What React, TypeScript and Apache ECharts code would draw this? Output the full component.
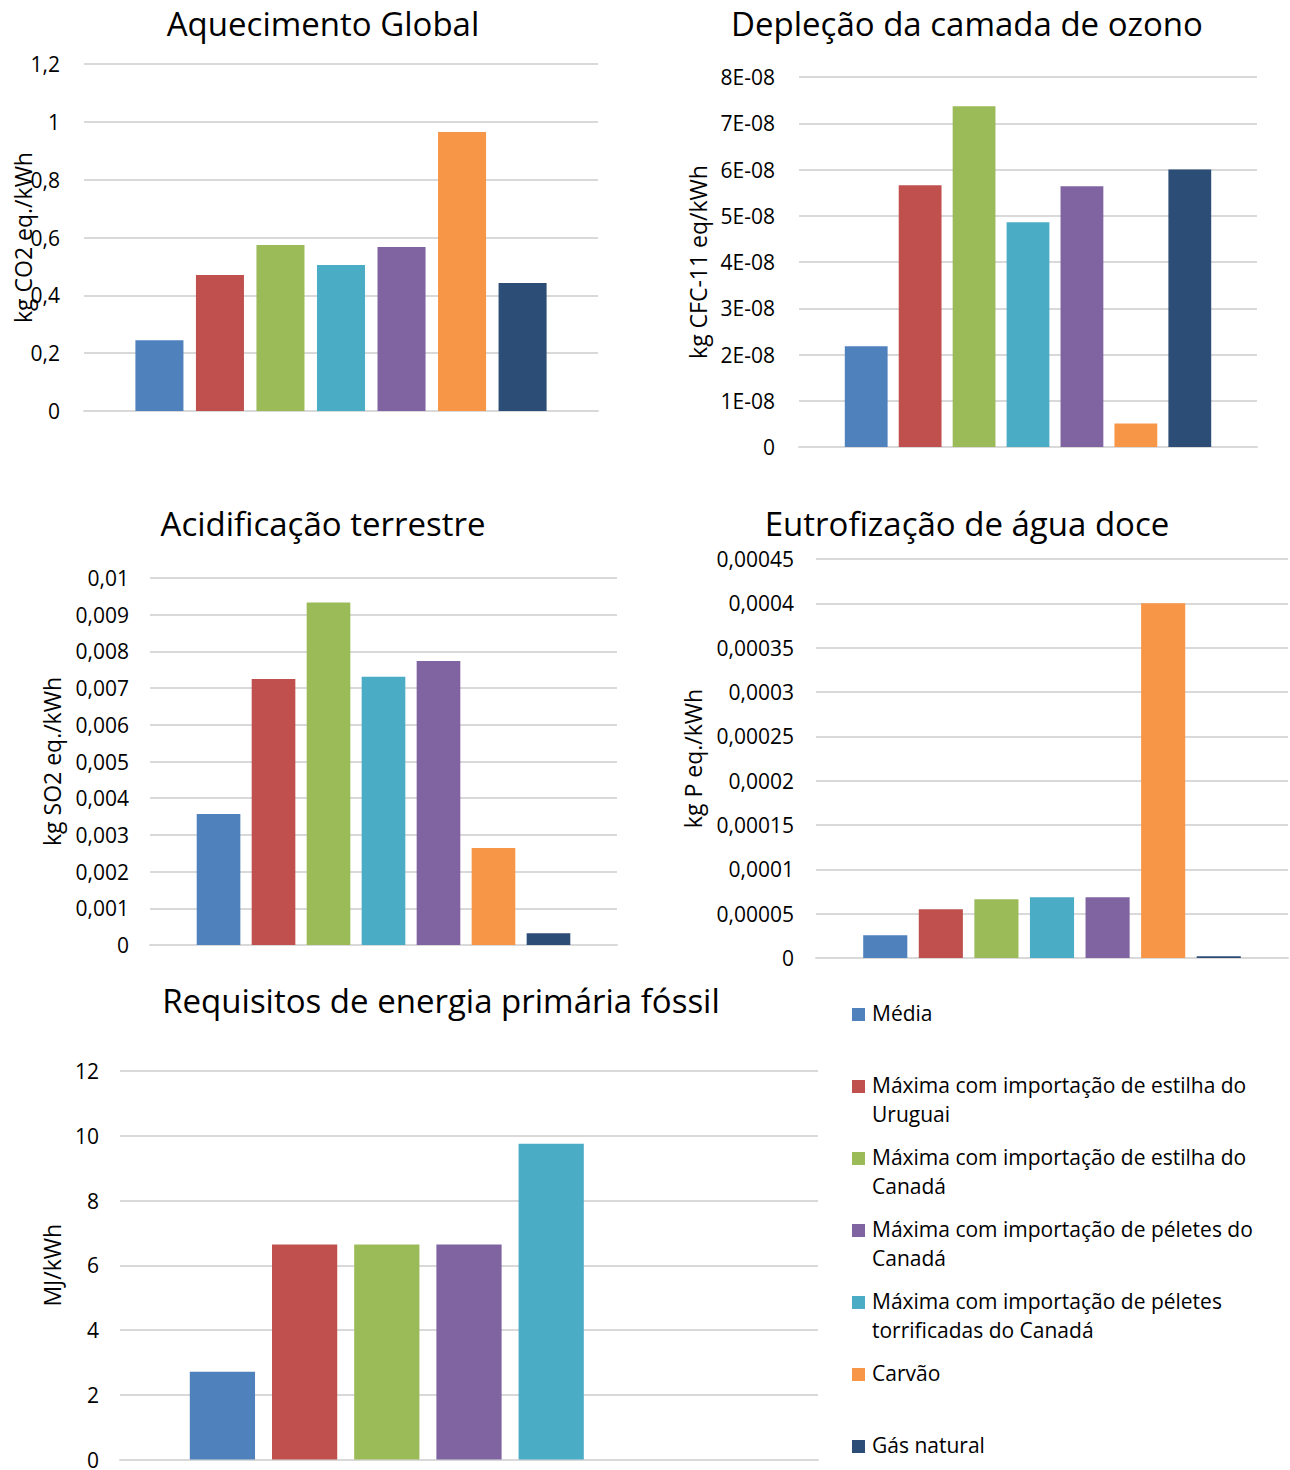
import React, { useEffect, useRef } from 'react';
import * as echarts from 'echarts';

// Scenario names, in legend order
const scenarios = [
  'Média',
  'Máxima com importação de estilha do Uruguai',
  'Máxima com importação de estilha do Canadá',
  'Máxima com importação de péletes do Canadá',
  'Máxima com importação de péletes torrificadas do Canadá',
  'Carvão',
  'Gás natural',
];

// Legend labels with their line breaks
const legendLabels = [
  'Média',
  'Máxima com importação de estilha do\nUruguai',
  'Máxima com importação de estilha do\nCanadá',
  'Máxima com importação de péletes do\nCanadá',
  'Máxima com importação de péletes\ntorrificadas do Canadá',
  'Carvão',
  'Gás natural',
];

const scenarioColors = ['#4F81BD', '#C0504D', '#9BBB59', '#8064A2', '#4BACC6', '#F79646', '#2C4D75'];

// Impact values per scenario (legend order)
const aquecimentoGlobal = [0.245, 0.47, 0.574, 0.567, 0.505, 0.965, 0.443];
const deplecaoOzono = [2.18e-8, 5.66e-8, 7.37e-8, 5.64e-8, 4.86e-8, 0.51e-8, 6.0e-8];
const acidificacao = [0.00357, 0.00725, 0.00933, 0.00774, 0.00731, 0.00264, 0.00032];
const eutrofizacao = [0.0000256, 0.0000549, 0.0000662, 0.0000685, 0.0000685, 0.0004, 0.0000019];
const energiaFossil: (number | null)[] = [2.71, 6.64, 6.64, 6.64, 9.75, null, null];

// Order in which the scenario bars appear inside each panel
const orderImpactos = [0, 1, 2, 4, 3, 5, 6];
const orderEnergia = [0, 1, 2, 3, 4, 5, 6];

// Axis ranges
const axisMax = [1.2, 8e-8, 0.01, 0.00045, 12];
const axisStep = [0.2, 1e-8, 0.001, 0.00005, 2];

const titles = [
  'Aquecimento Global',
  'Depleção da camada de ozono',
  'Acidificação terrestre',
  'Eutrofização de água doce',
  'Requisitos de energia primária fóssil',
];
const axisNames = ['kg CO2 eq./kWh', 'kg CFC-11 eq/kWh', 'kg SO2 eq./kWh', 'kg P eq./kWh', 'MJ/kWh'];

const FONT = "'Open Sans', sans-serif";
const GRID_COLOR = '#D9D9D9';

const commaFormat = (v: number) =>
  v === 0 ? '0' : String(parseFloat(v.toPrecision(6))).replace('.', ',');
const sciFormat = (v: number) => (v === 0 ? '0' : `${Math.round(v / 1e-8)}E-08`);

const panels = [
  { values: aquecimentoGlobal, order: orderImpactos, fmt: commaFormat,
    grid: { left: 84, width: 514, top: 64, height: 347 }, nameGap: 50, labelMargin: 24,
    title: { x: 323, y: 7 } },
  { values: deplecaoOzono, order: orderImpactos, fmt: sciFormat,
    grid: { left: 799, width: 458, top: 77, height: 370 }, nameGap: 90, labelMargin: 24,
    title: { x: 967, y: 7 } },
  { values: acidificacao, order: orderImpactos, fmt: commaFormat,
    grid: { left: 150, width: 467, top: 578, height: 367 }, nameGap: 87, labelMargin: 21,
    title: { x: 323, y: 507 } },
  { values: eutrofizacao, order: orderImpactos, fmt: commaFormat,
    grid: { left: 816, width: 472, top: 559, height: 399 }, nameGap: 112, labelMargin: 22,
    title: { x: 967, y: 507 } },
  { values: energiaFossil, order: orderEnergia, fmt: commaFormat,
    grid: { left: 120, width: 698, top: 1071, height: 395 }, nameGap: 57, labelMargin: 21,
    title: { x: 441, y: 984 } },
];

export default function App() {
  const ref = useRef<HTMLDivElement>(null);

  useEffect(() => {
    if (!ref.current) return;
    const chart = echarts.init(ref.current, null, { renderer: 'svg' });

    const series: any[] = [];
    panels.forEach((p, gi) => {
      p.order.forEach((si) => {
        const v = p.values[si];
        series.push({
          type: 'bar',
          name: scenarios[si],
          xAxisIndex: gi,
          yAxisIndex: gi,
          data: [v == null ? '-' : v],
          itemStyle: { color: scenarioColors[si] },
          barGap: '26%',
          barCategoryGap: '20%',
        });
      });
    });

    const legendGraphics: any[] = [];
    legendLabels.forEach((label, i) => {
      const cy = 1014.5 + 72 * i;
      legendGraphics.push({
        type: 'rect',
        shape: { x: 852, y: cy - 6.5, width: 13, height: 13 },
        style: { fill: scenarioColors[i] },
      });
      legendGraphics.push({
        type: 'text',
        x: 872,
        y: cy - 16,
        style: {
          text: label,
          font: `21px ${FONT}`,
          fill: '#000',
          lineHeight: 29,
          verticalAlign: 'top',
          align: 'left',
        },
      });
    });

    chart.setOption({
      animation: false,
      backgroundColor: '#fff',
      textStyle: { fontFamily: FONT },
      title: panels.map((p, i) => ({
        text: titles[i],
        left: p.title.x,
        top: p.title.y,
        textAlign: 'center',
        padding: 0,
        textStyle: { fontSize: 33, fontWeight: 'normal', color: '#000', fontFamily: FONT },
      })),
      grid: panels.map((p) => ({ ...p.grid, containLabel: false })),
      xAxis: panels.map((_, i) => ({
        type: 'category',
        gridIndex: i,
        data: [''],
        axisLine: { show: true, lineStyle: { color: GRID_COLOR, width: 2 } },
        axisTick: { show: false },
        axisLabel: { show: false },
      })),
      yAxis: panels.map((p, i) => ({
        type: 'value',
        gridIndex: i,
        min: 0,
        max: axisMax[i],
        interval: axisStep[i],
        name: axisNames[i],
        nameLocation: 'middle',
        nameGap: p.nameGap,
        nameMoveOverlap: false,
        nameTextStyle: { fontSize: 23, color: '#000', fontFamily: FONT },
        axisLine: { show: false },
        axisTick: { show: false },
        axisLabel: { fontSize: 21, color: '#000', margin: p.labelMargin, formatter: p.fmt, fontFamily: FONT },
        splitLine: { show: true, lineStyle: { color: GRID_COLOR, width: 2 } },
      })),
      series,
      graphic: legendGraphics,
    });

    return () => chart.dispose();
  }, []);

  return (
    <div
      ref={ref}
      style={{ position: 'absolute', left: 0, top: 0, width: 1290, height: 1470, background: '#fff' }}
    />
  );
}
